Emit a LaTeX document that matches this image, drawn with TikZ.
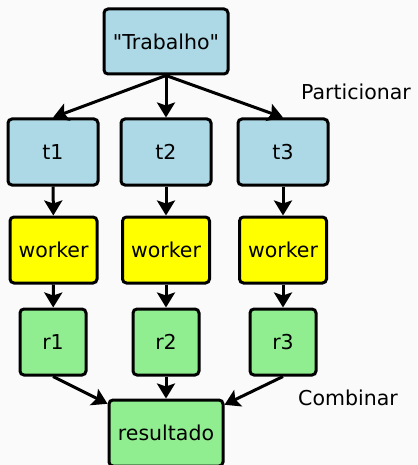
\documentclass[tikz,border=0pt]{standalone}
\usepackage{fontspec}
\setmainfont{DejaVu Sans}[Ligatures=TeXOff]
\usetikzlibrary{arrows.meta}
\definecolor{sfondo}{HTML}{FAFAFA}
\definecolor{azzurro}{HTML}{ADD8E6}
\definecolor{giallo}{HTML}{FFFF00}
\definecolor{verde}{HTML}{90EE90}
\tikzset{
  scatola/.style={draw, line width=3pt, rounded corners=4pt, inner sep=0pt,
    font=\fontsize{20.5}{24}\selectfont},
  freccia/.style={line width=3pt, -{Stealth[length=15pt, width=18pt, inset=3pt]}},
}
\begin{document}
\begin{tikzpicture}[x=1pt, y=-1pt]
        % Sfondo e dimensioni
        \useasboundingbox[fill=sfondo] (0,0) rectangle (417,465);

        % Nodo iniziale e sottocompiti
        \node[scatola, fill=azzurro, minimum width=124pt, minimum height=65pt] (trab) at (166,41.5) {"Trabalho"};
        \node[scatola, fill=azzurro, minimum width=90pt, minimum height=66pt] (t1) at (53,152) {t1};
        \node[scatola, fill=azzurro, minimum width=90pt, minimum height=66pt] (t2) at (166,152) {t2};
        \node[scatola, fill=azzurro, minimum width=90pt, minimum height=66pt] (t3) at (283,152) {t3};

        % Worker
        \node[scatola, fill=giallo, minimum width=87pt, minimum height=66pt] (w1) at (53.5,250) {worker};
        \node[scatola, fill=giallo, minimum width=87pt, minimum height=66pt] (w2) at (166,250) {worker};
        \node[scatola, fill=giallo, minimum width=87pt, minimum height=66pt] (w3) at (283,250) {worker};

        % Risultati parziali e risultato finale
        \node[scatola, fill=verde, minimum width=66pt, minimum height=66pt] (r1) at (53,342) {r1};
        \node[scatola, fill=verde, minimum width=66pt, minimum height=66pt] (r2) at (166,342) {r2};
        \node[scatola, fill=verde, minimum width=66pt, minimum height=66pt] (r3) at (283,342) {r3};
        \node[scatola, fill=verde, minimum width=114pt, minimum height=66pt] (ris) at (166,433) {resultado};

        % Etichette
        \node[font=\fontsize{20.5}{24}\selectfont] (part) at (356,92) {Particionar};
        \node[font=\fontsize{20.5}{24}\selectfont] (comb) at (348,398) {Combinar};

        % Frecce
        \draw[freccia] (trab.south) -- (t1.north);
        \draw[freccia] (trab.south) -- (t2.north);
        \draw[freccia] (trab.south) -- (t3.north);
        \draw[freccia] (t1) -- (w1);
        \draw[freccia] (t2) -- (w2);
        \draw[freccia] (t3) -- (w3);
        \draw[freccia] (w1) -- (r1);
        \draw[freccia] (w2) -- (r2);
        \draw[freccia] (w3) -- (r3);
        \draw[freccia] (r1.south) -- (ris);
        \draw[freccia] (r2) -- (ris);
        \draw[freccia] (r3.south) -- (ris);
      \end{tikzpicture}
\end{document}
